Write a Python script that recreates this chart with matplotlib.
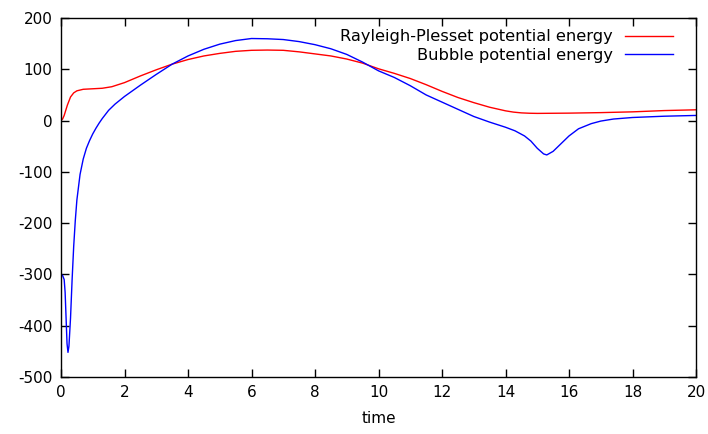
import matplotlib
matplotlib.use("Agg")
import matplotlib.pyplot as plt

# Rayleigh-Plesset potential energy
t_rp = [0, 0.05, 0.1, 0.15, 0.2, 0.3, 0.4, 0.5, 0.7, 1.0, 1.3, 1.6, 2.0, 2.5,
        3.0, 3.5, 4.0, 4.5, 5.0, 5.5, 6.0, 6.5, 7.0, 7.5, 8.0, 8.5, 9.0, 9.5,
        10.0, 10.5, 11.0, 11.5, 12.0, 12.5, 13.0, 13.5, 14.0, 14.25, 14.5,
        14.75, 15.0, 16.0, 17.0, 18.0, 19.0, 20.0]
e_rp = [0, 3, 10, 20, 30, 46, 54, 58, 61, 62, 63, 66, 74, 87,
        99, 110, 119, 126, 131, 135, 137, 137.5, 137, 134, 130, 126, 120, 112,
        101, 92, 82, 70, 57, 45, 35, 26, 19, 16.5, 15,
        14.3, 14, 14.5, 15.5, 17, 19.5, 21]

# Bubble potential energy
t_bb = [0, 0.05, 0.1, 0.13, 0.16, 0.19, 0.22, 0.25, 0.3, 0.35, 0.4, 0.45,
        0.5, 0.6, 0.7, 0.8, 0.9, 1.0, 1.1, 1.2, 1.3, 1.4, 1.5, 1.7, 2.0,
        2.5, 3.0, 3.5, 4.0, 4.5, 5.0, 5.5, 6.0, 6.5, 7.0, 7.5, 8.0, 8.5,
        9.0, 9.5, 10.0, 10.5, 11.0, 11.5, 12.0, 12.5, 13.0, 13.5, 14.0,
        14.3, 14.6, 14.8, 15.0, 15.2, 15.3, 15.5, 15.7, 16.0, 16.3, 16.7,
        17.0, 17.4, 18.0, 19.0, 20.0]
e_bb = [-300, -302, -310, -335, -385, -435, -452, -440, -385, -310, -245, -195,
        -155, -105, -75, -54, -39, -26, -15, -5, 4, 12, 20, 32, 47,
        69, 90, 110, 126, 139, 149, 156, 160, 159.5, 158, 154, 148, 140,
        129, 114, 97, 84, 68, 50, 36, 22, 8, -3, -13,
        -20, -30, -40, -54, -65, -67, -60, -48, -30, -16, -6,
        -1, 3, 6, 8.5, 10]

plt.rcParams['font.family'] = ['DejaVu Sans']
plt.rcParams['axes.unicode_minus'] = False
fig = plt.figure(figsize=(7.08, 4.34), dpi=100)
ax = fig.add_axes([61/708, 57/434, 635/708, 359/434])

ax.plot(t_rp, e_rp, color='#ff0000', lw=1, label='Rayleigh-Plesset potential energy')
ax.plot(t_bb, e_bb, color='#0000ff', lw=1, label='Bubble potential energy')

ax.set_xlim(0, 20)
ax.set_ylim(-500, 200)
ax.set_xticks(range(0, 21, 2))
ax.set_yticks(range(-500, 201, 100))
ax.tick_params(direction='in', length=6, width=1, top=True, right=True,
               labelsize=11, pad=6, colors='black')
for s in ax.spines.values():
    s.set_linewidth(1)
ax.set_xlabel('time', fontsize=11, labelpad=8)

ax.legend(loc='upper right', frameon=False, markerfirst=False, fontsize=11.7,
          handlelength=2.95, handletextpad=0.74, labelspacing=0.2,
          borderaxespad=0.3, bbox_to_anchor=(0.982, 1.0))

fig.savefig('out.png', dpi=100)
